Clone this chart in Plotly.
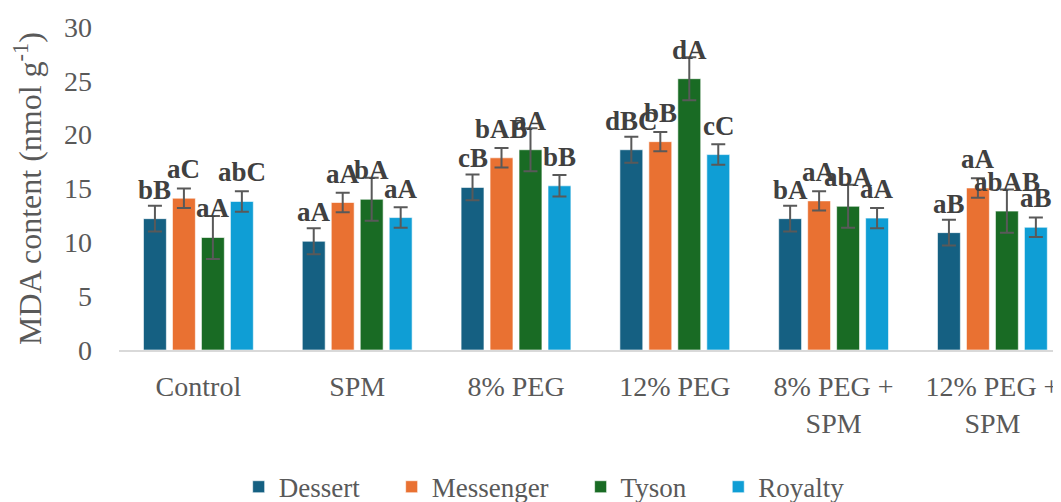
import plotly.graph_objects as go

categories = ["Control", "SPM", "8% PEG", "12% PEG", "8% PEG +<br>SPM", "12% PEG +<br>SPM"]
series_names = ["Dessert", "Messenger", "Tyson", "Royalty"]
dessert = [12.2, 10.1, 15.1, 18.6, 12.2, 10.9]
messenger = [14.1, 13.7, 17.85, 19.35, 13.85, 15.05]
tyson = [10.45, 14.0, 18.6, 25.2, 13.35, 12.9]
royalty = [13.8, 12.3, 15.25, 18.15, 12.25, 11.4]
dessert_err = [1.2, 1.2, 1.2, 1.2, 1.2, 1.2]
messenger_err = [0.9, 0.9, 0.9, 0.9, 0.9, 0.9]
tyson_err = [2.0, 2.0, 2.0, 2.0, 2.0, 2.0]
royalty_err = [0.95, 0.95, 1.0, 0.95, 0.95, 0.9]
dessert_lbl = ["bB", "aA", "cB", "dBC", "bA", "aB"]
messenger_lbl = ["aC", "aA", "bAB", "bB", "aA", "aA"]
tyson_lbl = ["aA", "bA", "aA", "dA", "abA", "abAB"]
royalty_lbl = ["abC", "aA", "bB", "cC", "aA", "aB"]
colors = ["#156082", "#E97132", "#196B24", "#0F9ED5"]

values = [dessert, messenger, tyson, royalty]
errors = [dessert_err, messenger_err, tyson_err, royalty_err]
labels = [dessert_lbl, messenger_lbl, tyson_lbl, royalty_lbl]

FONT = "Liberation Serif, Times New Roman, serif"
xpos = list(range(len(categories)))
PAD = "&nbsp;" * 4

fig = go.Figure()
for name, vals, errs, col in zip(series_names, values, errors, colors):
    fig.add_trace(go.Bar(
        x=xpos, y=vals, name=name + PAD,
        marker=dict(color=col, line=dict(color="rgba(255,255,255,0.6)", width=1)),
        error_y=dict(type="data", array=errs, visible=True, color="#595959", thickness=2, width=7),
    ))

bargap = 0.27
groupgap = 0.21
slot = (1 - bargap) / 4
annotations = []
for j, (vals, lbls) in enumerate(zip(values, labels)):
    for i, (v, t) in enumerate(zip(vals, lbls)):
        annotations.append(dict(
            x=i + (j - 1.5) * slot, y=v, text="<b>%s</b>" % t, showarrow=False,
            yanchor="middle", yshift=29, xref="x", yref="y",
            font=dict(family=FONT, size=27, color="#404040"),
        ))

# page body has an 8px margin, so the figure is sized to fill the rest of the window
fig.update_layout(
    width=1053, height=494,
    margin=dict(l=111, r=0, t=19, b=152),
    paper_bgcolor="white", plot_bgcolor="white",
    barmode="group", bargap=bargap, bargroupgap=groupgap,
    font=dict(family=FONT, size=28, color="#595959"),
    showlegend=True,
    legend=dict(orientation="h", xref="container", yref="container",
                x=0.522, xanchor="center", y=0.03, yanchor="middle",
                font=dict(family=FONT, size=27, color="#595959"), itemwidth=30),
    annotations=annotations,
    xaxis=dict(tickmode="array", tickvals=xpos, ticktext=categories, range=[-0.5, 5.432],
               showline=True, linecolor="#D9D9D9", linewidth=1.5, showgrid=False, automargin=False,
               ticks="", ticklabelstandoff=11, tickfont=dict(size=28, color="#595959"), zeroline=False),
    yaxis=dict(range=[0, 30], dtick=5, showgrid=False, showline=False, zeroline=False, automargin=False,
               ticks="", ticklabelstandoff=26, tickfont=dict(size=28, color="#595959"),
               title=dict(text="MDA content (nmol g<sup>-1</sup>)", standoff=14,
                          font=dict(size=32, color="#595959"))),
)

fig.write_html("out.html")
